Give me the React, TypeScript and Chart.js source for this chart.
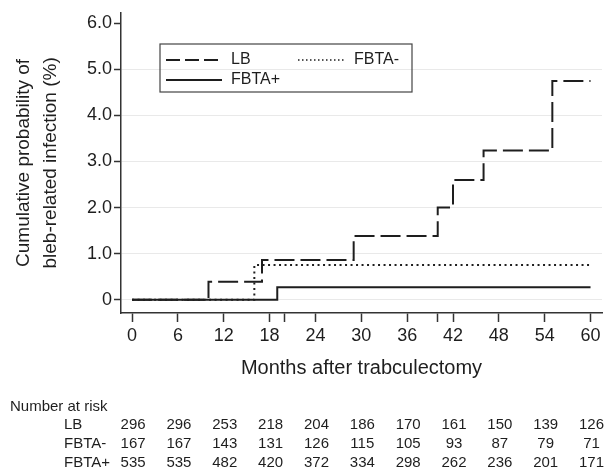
import { useEffect, useRef } from 'react';
import { Chart, registerables } from 'chart.js';

Chart.register(...registerables);

// ---- Data ----
const lbMonths = [0, 10, 17, 29, 40, 42, 46, 55, 60];
const lbValues = [0, 0.39, 0.86, 1.38, 2.0, 2.6, 3.24, 4.75, 4.75];
const fbtaMinusMonths = [0, 16, 60];
const fbtaMinusValues = [0, 0.75, 0.75];
const fbtaPlusMonths = [0, 19, 60];
const fbtaPlusValues = [0, 0.27, 0.27];

const xTickValues = [0, 6, 12, 18, 24, 30, 36, 42, 48, 54, 60];
const xExtraTicks = [20, 40];
const yTickValues = [0, 1, 2, 3, 4, 5, 6];
const yTickLabels = ['0', '1.0', '2.0', '3.0', '4.0', '5.0', '6.0'];

const riskTimes = [0, 6, 12, 18, 24, 30, 36, 42, 48, 54, 60];
const riskLB = [296, 296, 253, 218, 204, 186, 170, 161, 150, 139, 126];
const riskFBTAminus = [167, 167, 143, 131, 126, 115, 105, 93, 87, 79, 71];
const riskFBTAplus = [535, 535, 482, 420, 372, 334, 298, 262, 236, 201, 171];
const riskLabels = ['LB', 'FBTA-', 'FBTA+'];

const FONT = "'Liberation Sans', Arial, sans-serif";
const INK = '#1e1e1e';
const AXIS = '#333333';

const toPoints = (xs: number[], ys: number[]) => xs.map((x, i) => ({ x, y: ys[i] }));

const extrasPlugin = {
  id: 'extras',
  afterDraw(chart: any) {
    const ctx = chart.ctx;
    const xs = chart.scales.x;
    ctx.save();
    // Legend box
    const bx = 160, by = 44, bw = 252, bh = 48;
    ctx.strokeStyle = '#444';
    ctx.lineWidth = 1.2;
    ctx.strokeRect(bx, by, bw, bh);
    ctx.font = `16px ${FONT}`;
    ctx.fillStyle = INK;
    ctx.textBaseline = 'middle';
    ctx.textAlign = 'left';
    const row1 = 60, row2 = 80;
    ctx.lineWidth = 2;
    ctx.strokeStyle = INK;
    // LB
    ctx.setLineDash([14, 5]);
    ctx.beginPath(); ctx.moveTo(166, row1); ctx.lineTo(222, row1); ctx.stroke();
    ctx.fillText('LB', 231, row1);
    // FBTA-
    ctx.lineWidth = 1.5;
    ctx.setLineDash([1.5, 2.5]);
    ctx.beginPath(); ctx.moveTo(298, row1); ctx.lineTo(345, row1); ctx.stroke();
    ctx.fillText('FBTA-', 354, row1);
    // FBTA+
    ctx.lineWidth = 2;
    ctx.setLineDash([]);
    ctx.beginPath(); ctx.moveTo(166, row2); ctx.lineTo(222, row2); ctx.stroke();
    ctx.fillText('FBTA+', 231, row2);

    // Number at risk table
    ctx.font = `15px ${FONT}`;
    ctx.fillText('Number at risk', 10, 407);
    const rows = [riskLB, riskFBTAminus, riskFBTAplus];
    const rowY = [425, 444, 463];
    ctx.font = `15px ${FONT}`;
    rows.forEach((r, ri) => {
      ctx.textAlign = 'left';
      ctx.fillText(riskLabels[ri], 64, rowY[ri]);
      ctx.textAlign = 'center';
      r.forEach((v, i) => {
        ctx.fillText(String(v), xs.getPixelForValue(riskTimes[i]) + 1, rowY[ri]);
      });
    });
    ctx.restore();
  },
};

export default function App() {
  const ref = useRef<HTMLCanvasElement | null>(null);
  useEffect(() => {
    if (!ref.current) return;
    const chart = new Chart(ref.current, {
      type: 'line',
      data: {
        datasets: [
          {
            label: 'FBTA+',
            data: toPoints(fbtaPlusMonths, fbtaPlusValues),
            borderColor: INK,
            borderWidth: 2,
            stepped: 'before',
            pointRadius: 0,
            fill: false,
          },
          {
            label: 'FBTA-',
            data: toPoints(fbtaMinusMonths, fbtaMinusValues),
            borderColor: INK,
            borderWidth: 2,
            borderDash: [2, 3.5],
            stepped: 'before',
            pointRadius: 0,
            fill: false,
          },
          {
            label: 'LB',
            data: toPoints(lbMonths, lbValues),
            borderColor: INK,
            borderWidth: 2,
            borderDash: [20, 6],
            stepped: 'before',
            pointRadius: 0,
            fill: false,
          },
        ],
      },
      options: {
        responsive: false,
        animation: false,
        layout: { padding: { left: 0, right: 13, top: 12, bottom: 86 } },
        plugins: { legend: { display: false }, tooltip: { enabled: false } },
        scales: {
          x: {
            type: 'linear',
            min: -1.45,
            max: 61.5,
            afterBuildTicks: (s: any) => {
              s.ticks = [...xTickValues, ...xExtraTicks].sort((a, b) => a - b).map((v) => ({ value: v }));
            },
            afterFit: (s: any) => { s.height = 71; },
            ticks: {
              autoSkip: false,
              maxRotation: 0,
              padding: 3,
              color: INK,
              font: { family: FONT, size: 18 },
              callback: (v: any) => (xTickValues.includes(Number(v)) ? String(v) : ''),
            },
            grid: { drawOnChartArea: false, drawTicks: true, tickLength: 9, tickColor: AXIS, tickWidth: 1.5 },
            border: { display: true, color: AXIS, width: 1.5 },
            title: {
              display: true,
              text: 'Months after trabculectomy',
              color: INK,
              font: { family: FONT, size: 20 },
              padding: { top: 4, bottom: 4 },
            },
          },
          y: {
            type: 'linear',
            min: -0.29,
            max: 6.23,
            afterBuildTicks: (s: any) => {
              s.ticks = yTickValues.map((v) => ({ value: v }));
            },
            afterFit: (s: any) => { s.width = 121; },
            ticks: {
              padding: 2,
              color: INK,
              font: { family: FONT, size: 18 },
              callback: (v: any) => {
                const i = yTickValues.indexOf(Number(v));
                return i >= 0 ? yTickLabels[i] : '';
              },
            },
            grid: {
              color: (c: any) => (c.tick && c.tick.value === 6 ? 'rgba(0,0,0,0)' : '#e9e9e9'),
              lineWidth: 1,
              drawTicks: true,
              tickLength: 7,
              tickColor: AXIS,
              tickWidth: 1.5,
            },
            border: { display: true, color: AXIS, width: 1.5 },
            title: {
              display: true,
              text: ['Cumulative probability of', 'bleb-related infection (%)'],
              color: INK,
              font: { family: FONT, size: 19, lineHeight: 1.42 },
              padding: { top: 10, bottom: 4 },
            },
          },
        },
      },
      plugins: [extrasPlugin],
    });
    return () => chart.destroy();
  }, []);
  return (
    <div style={{ position: 'fixed', left: 0, top: 0, width: 615, height: 470, background: '#fff' }}>
      <canvas ref={ref} width={615} height={470} style={{ display: 'block' }} />
    </div>
  );
}
